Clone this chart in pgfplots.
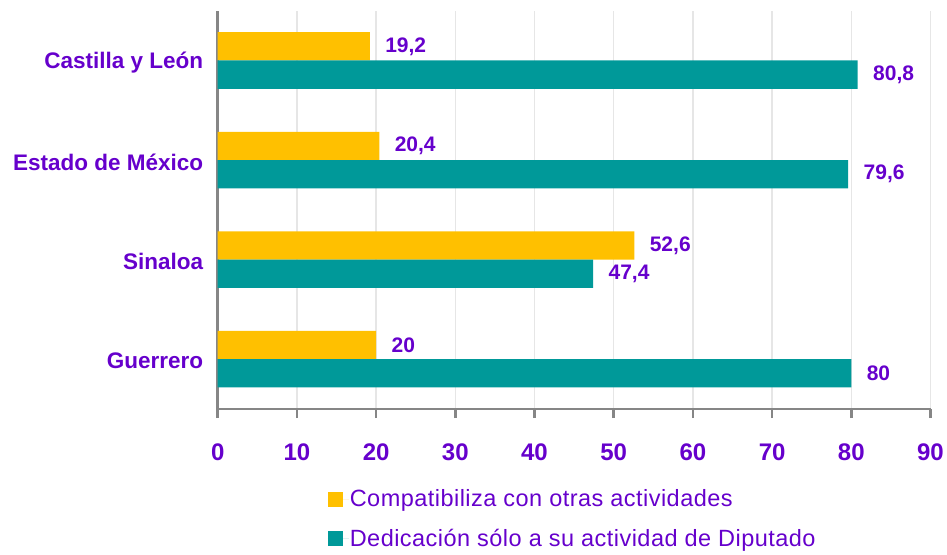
\documentclass[border=0pt]{standalone}
\usepackage{fontspec}
\setmainfont{Liberation Sans}
\newfontfamily\legfont{Liberation Sans}[LetterSpace=2]
\usepackage{pgfplots}
\pgfplotsset{compat=1.18}
\definecolor{cyel}{HTML}{FFC000}
\definecolor{cteal}{HTML}{009999}
\definecolor{cpur}{HTML}{6600CC}
\definecolor{cax}{HTML}{868686}
\definecolor{cgrid}{HTML}{E6E6E6}
\begin{document}
\begin{tikzpicture}
\path[use as bounding box] (-217.7bp,-146bp) rectangle (729.3bp,409bp);
\begin{axis}[
  at={(0,0)}, anchor=south west,
  scale only axis, width=712.8bp, height=398.3bp,
  xbar, xmin=0, xmax=90, ymin=-0.5, ymax=3.5,
  bar width=0.284,
  axis lines*=left,
  axis line style={cax, line width=2.5bp},
  tick align=outside,
  major tick length=9bp, minor tick length=9bp,
  xtick={0,10,...,90},
  xtick style={cax, line width=2.5bp},
  xmajorgrids, grid style={cgrid, line width=1.5bp},
  ytick={0,1,2,3},
  yticklabels={Guerrero,Sinaloa,Estado de México,Castilla y León},
  ytick style={draw=none},
  minor ytick={-0.5,0.5,1.5,2.5,3.5},
  minor tick style={cax, line width=2.5bp},
  /pgf/number format/assume math mode=true,
  xticklabel style={font=\fontsize{24bp}{28bp}\selectfont\bfseries, text=cpur, yshift=-22bp},
  yticklabel style={font=\fontsize{22.5bp}{26bp}\selectfont\bfseries, text=cpur, xshift=-2bp, yshift=-2bp},
  point meta=explicit symbolic,
  nodes near coords,
  nodes near coords style={font=\fontsize{21bp}{24bp}\selectfont\bfseries, text=cpur, anchor=west, xshift=12bp},
  legend cell align=left,
  legend style={draw=none, fill=none, at={(0.150,-0.195)}, anchor=north west,
    font=\legfont\fontsize{23.5bp}{26bp}\selectfont, text=cpur, row sep=19bp,
    nodes={inner sep=1bp}},
  legend image code/.code={\fill[#1] (0bp,-7.5bp) rectangle (15bp,7.5bp); \path (0bp,0bp) -- (21bp,0bp);},
]
\addplot[fill=cyel, draw=none, bar shift=0.142] coordinates {
  (20,0) [20] (52.6,1) [52,6] (20.4,2) [20,4] (19.2,3) [19,2]
};
\addlegendentry{Compatibiliza con otras actividades}
\addplot[fill=cteal, draw=none, bar shift=-0.142] coordinates {
  (80,0) [80] (47.4,1) [47,4] (79.6,2) [79,6] (80.8,3) [80,8]
};
\addlegendentry{Dedicación sólo a su actividad de Diputado}
\end{axis}
\end{tikzpicture}
\end{document}
